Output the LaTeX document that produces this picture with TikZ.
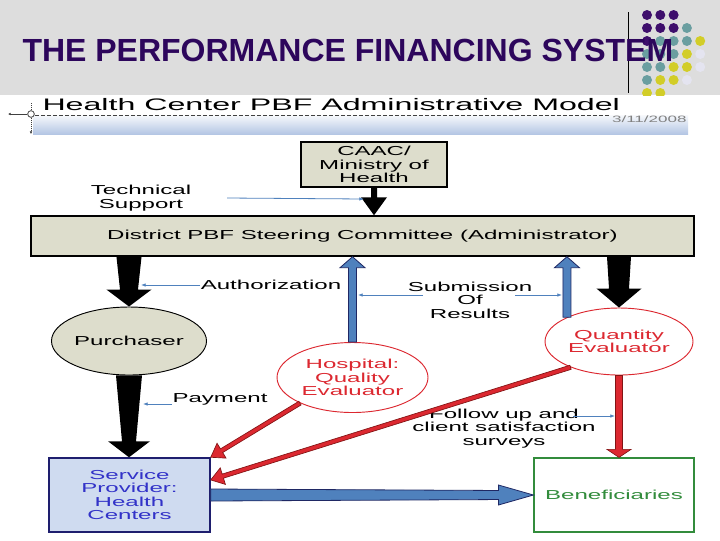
\documentclass[tikz,border=0pt]{standalone}
\usepackage{fontspec}
\setmainfont{Liberation Sans}
\newfontfamily\stretched[FakeStretch=1.85]{Liberation Sans}
\newfontfamily\headfont[FakeStretch=1.93]{Liberation Sans}
\usetikzlibrary{arrows.meta,calc,shapes.geometric}

\definecolor{slidegrey}{RGB}{221,221,221}
\definecolor{titlepurple}{RGB}{45,6,92}
\definecolor{dotpurple}{RGB}{62,14,108}
\definecolor{dotteal}{RGB}{106,158,160}
\definecolor{dotyellow}{RGB}{210,205,40}
\definecolor{dotlilac}{RGB}{228,228,240}
\definecolor{boxfill}{RGB}{221,221,204}
\definecolor{bandblue}{RGB}{180,198,228}
\definecolor{notearrow}{RGB}{79,129,189}
\definecolor{blockblue}{RGB}{79,129,189}
\definecolor{navyline}{RGB}{31,40,100}
\definecolor{evalred}{RGB}{220,40,48}
\definecolor{darkred}{RGB}{130,20,20}
\definecolor{provfill}{RGB}{207,219,240}
\definecolor{provtext}{RGB}{50,50,200}
\definecolor{provline}{RGB}{30,30,110}
\definecolor{benefgreen}{RGB}{50,140,60}

\tikzset{every picture/.style={line width=0.75pt}}

% block arrow: [style]{from}{to}{half shaft at tail}{half shaft at head}{half head}{head length}
\newcommand\blockarrow[7][]{%
  \coordinate (ba-head) at ($(#3)!#7!(#2)$);
  \path[#1] ($(#2)!#4!90:(#3)$) -- ($(ba-head)!#5!90:(#3)$) -- ($(ba-head)!#6!90:(#3)$) -- (#3)
    -- ($(ba-head)!#6!-90:(#3)$) -- ($(ba-head)!#5!-90:(#3)$) -- ($(#2)!#4!-90:(#3)$) -- cycle;}

\begin{document}
\begin{tikzpicture}[x=0.75pt,y=0.75pt,yscale=-1,xscale=1,
  lbl/.style={font=\stretched\fontsize{9.75}{10.1}\selectfont, align=center, inner sep=0pt},
  greybox/.style={lbl, draw=black, line width=1.1pt, fill=boxfill},
  oval/.style={lbl, ellipse, draw=#1, line width=0.7pt},
  note/.style={draw=notearrow, line width=0.6pt, -{Latex[length=3.5pt,width=2.6pt]}},
  blackarrow/.style={fill=black},
  bluearrow/.style={fill=blockblue, draw=navyline, line width=0.6pt},
  redarrow/.style={fill=evalred, draw=darkred, line width=0.5pt}]
		\useasboundingbox (0,0) rectangle (720,540);
		
		%Shape: Rectangle [slide background]
		\fill[slidegrey] (0,0) rectangle (720,95);
		%Shape: Circles [dots]
		\foreach \c/\r/\k in {0/0/dotpurple,1/0/dotpurple,2/0/dotpurple,
		  0/1/dotpurple,1/1/dotpurple,2/1/dotpurple,3/1/dotteal,
		  0/2/dotpurple,1/2/dotteal,2/2/dotteal,3/2/dotteal,4/2/dotyellow,
		  0/3/dotteal,1/3/dotteal,2/3/dotteal,3/3/dotyellow,4/3/dotlilac,
		  0/4/dotteal,1/4/dotteal,2/4/dotyellow,3/4/dotyellow,4/4/dotlilac,
		  0/5/dotteal,1/5/dotyellow,2/5/dotyellow,3/5/dotlilac,
		  0/6/dotyellow,1/6/dotyellow}
		  \fill[\k] ({647+13.3*\c},{15+13*\r}) circle (5);
		\fill[white] (0,95.5) rectangle (720,540);
		%Straight Lines
		\draw (628,12) -- (628,93);
		
		% Text Node
		\node[anchor=base west, inner sep=0pt, text=titlepurple, font=\bfseries\fontsize{24}{24}\selectfont] (title) at (22,61) {THE PERFORMANCE FINANCING SYSTEM};
		% Text Node
		\node[anchor=base west, inner sep=0pt, font=\headfont\fontsize{12.5}{12.5}\selectfont] (head) at (42,110) {Health Center PBF Administrative Model};
		%Shape: Rectangle [header band]
		\shade[top color=white!90!bandblue, bottom color=bandblue] (33,115) rectangle (688,134);
		\draw[darkgray, line width=0.5pt, dash pattern=on 3pt off 1.5pt] (35,115) -- (610,115);
		% Text Node
		\node[anchor=base east, inner sep=0pt, text=gray, font=\stretched\fontsize{6.9}{6.9}\selectfont] (date) at (687,122) {3/11/2008};
		%Shape: Circle [marker]
		\node[circle, draw=darkgray, line width=0.6pt, minimum size=5pt, inner sep=0pt] (mark) at (31,114) {};
		\draw[darkgray, line width=0.5pt, -{Latex[length=2pt,width=2pt]}] (mark.west) -- (8,114);
		\draw[darkgray, line width=0.5pt, densely dotted] (31,103) -- (mark.north);
		\draw[darkgray, line width=0.5pt, densely dotted, -{Latex[length=2pt,width=2pt]}] (mark.south) -- (31,134);
		
		%Shape: Rectangle
		\node[greybox, minimum width=109.5pt, minimum height=33.75pt] (caac) at (374,164.5) {CAAC/\\Ministry of\\Health};
		%Shape: Rectangle
		\node[greybox, minimum width=497.25pt, minimum height=30pt] (steer) at (362.5,236) {District PBF Steering Committee (Administrator)};
		%Shape: Ellipse
		\node[oval=black, fill=boxfill, minimum width=111pt, minimum height=51pt] (purch) at (129,341) {Purchaser};
		%Shape: Ellipse
		\node[oval=evalred, text=evalred, minimum width=113.25pt, minimum height=52.5pt] (hosp) at (352.5,377.5) {Hospital:\\Quality\\Evaluator};
		%Shape: Ellipse
		\node[oval=evalred, text=evalred, minimum width=111pt, minimum height=50.25pt] (quant) at (619,341.5) {Quantity\\Evaluator};
		%Shape: Rectangle
		\node[lbl, draw=provline, line width=1.1pt, fill=provfill, text=provtext, minimum width=120.75pt, minimum height=55.5pt] (serv) at (129.5,495) {Service\\Provider:\\Health\\Centers};
		%Shape: Rectangle
		\node[lbl, draw=benefgreen, line width=0.9pt, text=benefgreen, minimum width=120pt, minimum height=55.5pt] (benef) at (614,495) {Beneficiaries};
		
		% Text Node
		\node[lbl] (tech) at (141,198) {Technical\\Support};
		% Text Node
		\node[lbl] (auth) at (271,285) {Authorization};
		% Text Node
		\node[lbl] (subm) at (470,300) {Submission\\Of\\Results};
		% Text Node
		\node[lbl] (pay) at (220,399) {Payment};
		% Text Node
		\node[lbl] (follow) at (504,428.5) {Follow up and\\client satisfaction\\surveys};
		
		\coordinate (caac-in) at (caac.south |- steer.north);
		\coordinate (purch-out) at (purch.north |- steer.south);
		\coordinate (quant-out) at (quant.north |- steer.south);
		\coordinate (serv-in) at (purch.south |- serv.north);
		\coordinate (hosp-up) at (hosp.north |- steer.south);
		\coordinate (quant-up) at (quant.155 |- steer.south);
		\coordinate (serv-side) at ($(serv.north east)!0.3!(serv.south east)$);
		\coordinate (benef-in) at (quant.south |- benef.north);
		
		%Block Arrows
		\blockarrow[blackarrow]{caac.south}{caac-in}{2.25pt}{2.25pt}{9.75pt}{13.5pt}
		\blockarrow[blackarrow]{purch-out}{purch.north}{9.4pt}{6.75pt}{16.9pt}{12.75pt}
		\blockarrow[blackarrow]{quant-out}{quant.north}{9pt}{7.5pt}{16.9pt}{14.25pt}
		\blockarrow[blackarrow]{purch.south}{serv-in}{9.75pt}{5.25pt}{15.75pt}{12pt}
		\blockarrow[bluearrow]{hosp.north}{hosp-up}{3pt}{3pt}{9.4pt}{8.25pt}
		\blockarrow[bluearrow]{quant.155}{quant-up}{3pt}{3pt}{9.4pt}{8.25pt}
		\blockarrow[redarrow]{hosp.206}{serv.north east}{1.6pt}{1.6pt}{6.5pt}{9.5pt}
		\blockarrow[redarrow]{quant.208}{serv-side}{1.6pt}{1.6pt}{6.5pt}{9.5pt}
		\blockarrow[redarrow]{quant.south}{benef-in}{2.6pt}{2.6pt}{9pt}{6pt}
		\blockarrow[bluearrow]{serv.east}{benef.west}{4.5pt}{3.4pt}{7.5pt}{26.25pt}
		
		%Straight Lines
		\coordinate (ts-from) at (227,198);
		\coordinate (ts-to) at (364,199);
		\draw[note] (ts-from) -- (ts-to);
		\coordinate (au-to) at (141,285);
		\draw[note] (auth.west) -- (au-to);
		\coordinate (sb-lf) at (423,295);
		\coordinate (sb-lt) at (358,295);
		\draw[note] (sb-lf) -- (sb-lt);
		\coordinate (sb-rf) at (515,295);
		\coordinate (sb-rt) at (562,295);
		\draw[note] (sb-rf) -- (sb-rt);
		\coordinate (pay-from) at (172,404);
		\coordinate (pay-to) at (143,404);
		\draw[note] (pay-from) -- (pay-to);
		\coordinate (fu-from) at (573,416);
		\coordinate (fu-to) at (615,416);
		\draw[note] (fu-from) -- (fu-to);
\end{tikzpicture}
\end{document}
